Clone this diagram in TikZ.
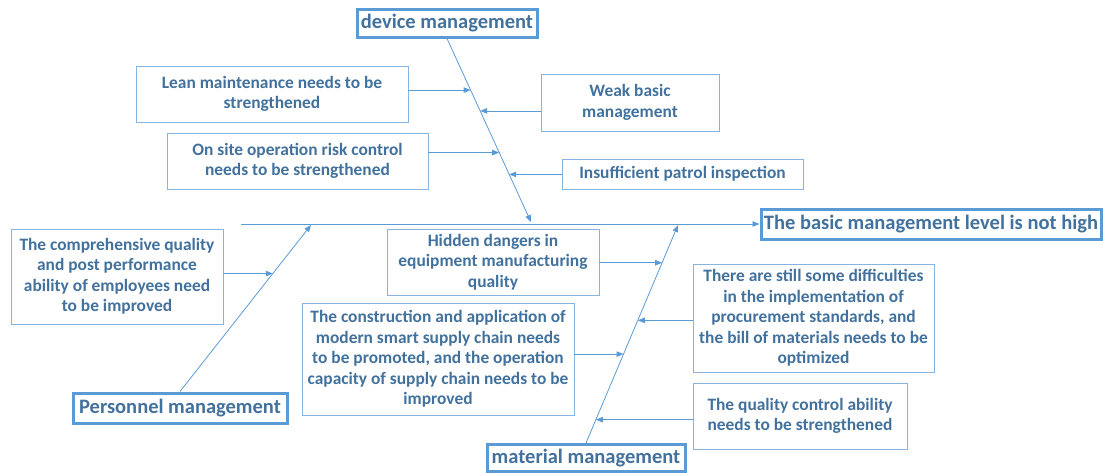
\documentclass[tikz,border=0pt]{standalone}
\usepackage{fontspec}
\setmainfont{Carlito}
\usetikzlibrary{arrows.meta,calc}

\definecolor{txtblue}{HTML}{41719C}
\definecolor{lineblue}{HTML}{5B9BD5}

\tikzset{
    cause/.style={draw=lineblue!75, line width=0.8pt, text=txtblue, align=center,
        font=\fontsize{17.4}{20.5}\selectfont\bfseries, inner sep=0pt},
    head/.style={draw=lineblue, line width=3pt, text=txtblue, align=center,
        font=\fontsize{20.5}{24}\selectfont\bfseries, inner sep=0pt},
    arr/.style={draw=lineblue, line width=0.8pt, -{Triangle[length=7pt,width=5.5pt]}}
}

\begin{document}
\begin{tikzpicture}[x=1pt,y=-1pt]
    \useasboundingbox (0,0) rectangle (1103,472);

    % effect and the three main categories
    \node[head, minimum width=340, minimum height=30] (effect) at (931,224) {The basic management level is not high};
    \node[head, minimum width=180, minimum height=28] (dev) at (447,23) {device management};
    \node[head, minimum width=214, minimum height=30] (person) at (180,408) {Personnel management};
    \node[head, minimum width=198, minimum height=27] (mat) at (586,458) {material management};

    % backbone and spines
    \coordinate (start) at (241,224);
    \coordinate (dtip) at (531,222);
    \coordinate (ptip) at (311,225);
    \coordinate (mtip) at (678,225);
    \draw[arr] (start) -- (effect.west);
    \draw[arr] (dev.south) -- (dtip);
    \draw[arr] (person.north) -- (ptip);
    \draw[arr] (mat.north) -- (mtip);

    % causes of device management
    \node[cause, minimum width=272, minimum height=56] (lean) at (272,94) {Lean maintenance needs to be\\strengthened};
    \node[cause, minimum width=261, minimum height=56] (onsite) at (297.5,161) {On site operation risk control\\needs to be strengthened};
    \node[cause, minimum width=178, minimum height=57] (weak) at (630,102.5) {Weak basic\\management};
    \node[cause, minimum width=241, minimum height=30] (patrol) at (682.5,174) {Insufficient patrol inspection};

    % causes of personnel management
    \node[cause, minimum width=212, minimum height=95] (staff) at (117,276.5) {The comprehensive quality\\and post performance\\ability of employees need\\to be improved};

    % causes of material management
    \node[cause, minimum width=212, minimum height=66] (hidden) at (493,262) {Hidden dangers in\\equipment manufacturing\\quality};
    \node[cause, minimum width=272, minimum height=112] (supply) at (438,359) {The construction and application of\\modern smart supply chain needs\\to be promoted, and the operation\\capacity of supply chain needs to be\\improved};
    \node[cause, minimum width=241, minimum height=108] (procure) at (813.5,318) {There are still some difficulties\\in the implementation of\\procurement standards, and\\the bill of materials needs to be\\optimized};
    \node[cause, minimum width=214, minimum height=66] (qc) at (800,416) {The quality control ability\\needs to be strengthened};

    % points where the branches meet the spines
    \coordinate (d1) at ($(dev.south)!{(89-37)/185}!(dtip)$);
    \coordinate (d2) at ($(dev.south)!{(110-37)/185}!(dtip)$);
    \coordinate (d3) at ($(dev.south)!{(152-37)/185}!(dtip)$);
    \coordinate (d4) at ($(dev.south)!{(174-37)/185}!(dtip)$);
    \coordinate (p1) at ($(person.north)!{(393-274)/168}!(ptip)$);
    \coordinate (m1) at ($(mat.north)!{(444.5-263)/219.5}!(mtip)$);
    \coordinate (m2) at ($(mat.north)!{(444.5-321)/219.5}!(mtip)$);
    \coordinate (m3) at ($(mat.north)!{(444.5-355)/219.5}!(mtip)$);
    \coordinate (m4) at ($(mat.north)!{(444.5-421)/219.5}!(mtip)$);

    % branches from the left
    \foreach \b/\t in {lean/d1, onsite/d3, staff/p1, hidden/m1, supply/m3}
        \draw[arr] (\b.east |- \t) -- (\t);
    % branches from the right
    \foreach \b/\t in {weak/d2, patrol/d4, procure/m2, qc/m4}
        \draw[arr] (\b.west |- \t) -- (\t);
\end{tikzpicture}
\end{document}
